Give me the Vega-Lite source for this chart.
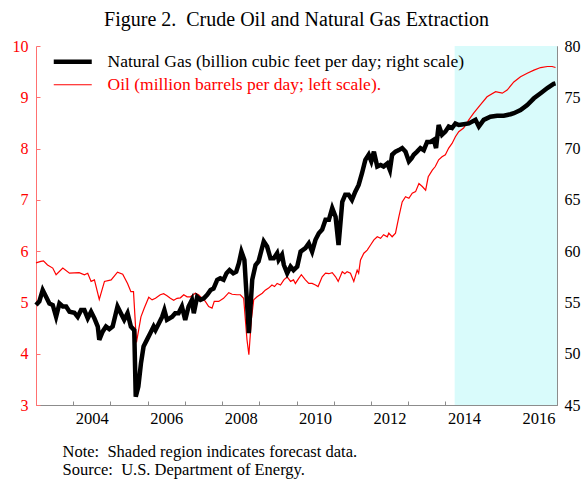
{
  "$schema": "https://vega.github.io/schema/vega-lite/v6.json",
  "width": 521,
  "height": 359,
  "autosize": {"type": "none"},
  "padding": {"left": 36, "top": 46, "right": 27, "bottom": 74},
  "background": "white",
  "config": {
    "font": "Liberation Serif",
    "view": {"stroke": null},
    "axis": {"grid": false, "labelFont": "Liberation Serif", "titleFont": "Liberation Serif"},
    "legend": {"labelFont": "Liberation Serif"}
  },
  "title": {
    "text": "Figure 2.\u00a0 Crude Oil and Natural Gas Extraction",
    "font": "Liberation Serif",
    "fontSize": 20,
    "fontWeight": "normal",
    "color": "black",
    "anchor": "middle",
    "offset": 8
  },
  "datasets": {
    "forecast": [{"start": 2014.25, "end": 2017}],
    "oil": [
      {"t":2003.00,"v":5.77},{"t":2003.13,"v":5.80},{"t":2003.20,"v":5.81},{"t":2003.31,"v":5.73},{"t":2003.45,"v":5.67},{"t":2003.54,"v":5.54},{"t":2003.72,"v":5.67},{"t":2003.90,"v":5.57},{"t":2004.16,"v":5.58},{"t":2004.30,"v":5.54},{"t":2004.39,"v":5.57},{"t":2004.48,"v":5.41},{"t":2004.57,"v":5.44},{"t":2004.70,"v":5.06},{"t":2004.84,"v":5.41},{"t":2005.02,"v":5.44},{"t":2005.19,"v":5.59},{"t":2005.33,"v":5.55},{"t":2005.46,"v":5.37},{"t":2005.55,"v":5.21},{"t":2005.62,"v":5.21},{"t":2005.70,"v":4.22},{"t":2005.82,"v":4.72},{"t":2005.91,"v":4.89},{"t":2006.03,"v":5.10},{"t":2006.12,"v":5.05},{"t":2006.21,"v":5.08},{"t":2006.34,"v":5.15},{"t":2006.43,"v":5.17},{"t":2006.52,"v":5.13},{"t":2006.61,"v":5.08},{"t":2006.70,"v":5.04},{"t":2006.79,"v":5.08},{"t":2006.88,"v":5.09},{"t":2006.97,"v":5.15},{"t":2007.06,"v":5.11},{"t":2007.15,"v":5.11},{"t":2007.28,"v":5.18},{"t":2007.37,"v":5.15},{"t":2007.46,"v":5.08},{"t":2007.55,"v":5.02},{"t":2007.64,"v":4.92},{"t":2007.73,"v":4.89},{"t":2007.79,"v":5.02},{"t":2007.91,"v":5.02},{"t":2008.04,"v":5.08},{"t":2008.18,"v":5.19},{"t":2008.27,"v":5.16},{"t":2008.40,"v":5.15},{"t":2008.49,"v":5.15},{"t":2008.58,"v":5.08},{"t":2008.67,"v":4.27},{"t":2008.72,"v":3.98},{"t":2008.79,"v":4.69},{"t":2008.85,"v":5.05},{"t":2008.94,"v":5.11},{"t":2009.08,"v":5.18},{"t":2009.16,"v":5.24},{"t":2009.25,"v":5.28},{"t":2009.34,"v":5.34},{"t":2009.41,"v":5.31},{"t":2009.48,"v":5.37},{"t":2009.57,"v":5.34},{"t":2009.66,"v":5.44},{"t":2009.75,"v":5.50},{"t":2009.84,"v":5.41},{"t":2009.92,"v":5.44},{"t":2009.97,"v":5.37},{"t":2010.06,"v":5.47},{"t":2010.13,"v":5.54},{"t":2010.24,"v":5.44},{"t":2010.33,"v":5.37},{"t":2010.42,"v":5.37},{"t":2010.51,"v":5.34},{"t":2010.58,"v":5.31},{"t":2010.69,"v":5.50},{"t":2010.78,"v":5.57},{"t":2010.87,"v":5.56},{"t":2010.96,"v":5.58},{"t":2011.05,"v":5.50},{"t":2011.12,"v":5.41},{"t":2011.23,"v":5.60},{"t":2011.30,"v":5.56},{"t":2011.36,"v":5.60},{"t":2011.45,"v":5.57},{"t":2011.54,"v":5.41},{"t":2011.63,"v":5.63},{"t":2011.67,"v":5.57},{"t":2011.72,"v":5.83},{"t":2011.81,"v":5.96},{"t":2011.90,"v":6.02},{"t":2011.99,"v":6.12},{"t":2012.08,"v":6.22},{"t":2012.17,"v":6.28},{"t":2012.26,"v":6.25},{"t":2012.34,"v":6.32},{"t":2012.44,"v":6.28},{"t":2012.48,"v":6.35},{"t":2012.57,"v":6.28},{"t":2012.66,"v":6.35},{"t":2012.75,"v":6.67},{"t":2012.84,"v":6.96},{"t":2012.93,"v":7.06},{"t":2013.02,"v":7.03},{"t":2013.11,"v":7.13},{"t":2013.20,"v":7.16},{"t":2013.29,"v":7.32},{"t":2013.38,"v":7.26},{"t":2013.47,"v":7.19},{"t":2013.54,"v":7.45},{"t":2013.65,"v":7.58},{"t":2013.73,"v":7.65},{"t":2013.82,"v":7.78},{"t":2013.91,"v":7.84},{"t":2014.00,"v":7.88},{"t":2014.09,"v":8.01},{"t":2014.18,"v":8.10},{"t":2014.27,"v":8.23},{"t":2014.36,"v":8.33},{"t":2014.49,"v":8.40},{"t":2014.63,"v":8.56},{"t":2014.76,"v":8.69},{"t":2014.94,"v":8.85},{"t":2015.12,"v":9.01},{"t":2015.35,"v":9.11},{"t":2015.53,"v":9.08},{"t":2015.66,"v":9.14},{"t":2015.84,"v":9.30},{"t":2016.02,"v":9.40},{"t":2016.20,"v":9.47},{"t":2016.38,"v":9.53},{"t":2016.56,"v":9.58},{"t":2016.74,"v":9.60},{"t":2016.87,"v":9.60},{"t":2016.96,"v":9.58}
    ],
    "gas": [
      {"t":2003.00,"v":54.75},{"t":2003.09,"v":55.1},{"t":2003.18,"v":56.2},{"t":2003.27,"v":55.55},{"t":2003.36,"v":54.9},{"t":2003.45,"v":54.75},{"t":2003.54,"v":53.6},{"t":2003.63,"v":54.9},{"t":2003.72,"v":54.6},{"t":2003.81,"v":54.6},{"t":2003.90,"v":54.1},{"t":2004.03,"v":54.0},{"t":2004.12,"v":53.6},{"t":2004.21,"v":54.25},{"t":2004.30,"v":54.25},{"t":2004.39,"v":53.45},{"t":2004.48,"v":54.1},{"t":2004.57,"v":53.45},{"t":2004.66,"v":52.65},{"t":2004.70,"v":51.35},{"t":2004.79,"v":52.15},{"t":2004.88,"v":52.65},{"t":2004.97,"v":52.4},{"t":2005.06,"v":52.65},{"t":2005.19,"v":54.6},{"t":2005.30,"v":53.8},{"t":2005.37,"v":53.3},{"t":2005.46,"v":53.95},{"t":2005.55,"v":52.65},{"t":2005.64,"v":52.3},{"t":2005.68,"v":45.8},{"t":2005.75,"v":46.8},{"t":2005.82,"v":49.05},{"t":2005.89,"v":50.7},{"t":2005.98,"v":51.35},{"t":2006.07,"v":52.0},{"t":2006.16,"v":52.65},{"t":2006.21,"v":52.3},{"t":2006.30,"v":52.95},{"t":2006.39,"v":53.6},{"t":2006.45,"v":54.25},{"t":2006.52,"v":53.3},{"t":2006.66,"v":53.6},{"t":2006.74,"v":53.95},{"t":2006.83,"v":53.95},{"t":2006.92,"v":54.6},{"t":2007.01,"v":53.3},{"t":2007.10,"v":54.6},{"t":2007.19,"v":55.25},{"t":2007.24,"v":53.95},{"t":2007.33,"v":55.55},{"t":2007.42,"v":55.25},{"t":2007.51,"v":55.4},{"t":2007.60,"v":55.75},{"t":2007.69,"v":56.2},{"t":2007.77,"v":56.35},{"t":2007.87,"v":57.2},{"t":2007.95,"v":57.35},{"t":2008.04,"v":57.2},{"t":2008.12,"v":57.85},{"t":2008.20,"v":58.15},{"t":2008.30,"v":57.85},{"t":2008.38,"v":58.0},{"t":2008.45,"v":58.8},{"t":2008.52,"v":59.95},{"t":2008.60,"v":59.15},{"t":2008.72,"v":52.0},{"t":2008.81,"v":57.2},{"t":2008.90,"v":58.65},{"t":2008.98,"v":59.0},{"t":2009.12,"v":60.95},{"t":2009.21,"v":60.45},{"t":2009.30,"v":59.3},{"t":2009.39,"v":59.3},{"t":2009.48,"v":59.8},{"t":2009.52,"v":59.15},{"t":2009.61,"v":59.65},{"t":2009.66,"v":58.65},{"t":2009.75,"v":57.85},{"t":2009.84,"v":58.5},{"t":2009.92,"v":58.15},{"t":2010.02,"v":58.5},{"t":2010.11,"v":59.95},{"t":2010.24,"v":60.3},{"t":2010.33,"v":60.75},{"t":2010.42,"v":59.95},{"t":2010.51,"v":61.1},{"t":2010.60,"v":61.75},{"t":2010.69,"v":62.1},{"t":2010.78,"v":63.05},{"t":2010.87,"v":63.05},{"t":2010.96,"v":64.2},{"t":2011.05,"v":63.35},{"t":2011.13,"v":60.6},{"t":2011.23,"v":64.8},{"t":2011.31,"v":65.5},{"t":2011.40,"v":65.5},{"t":2011.49,"v":65.0},{"t":2011.58,"v":65.8},{"t":2011.67,"v":66.45},{"t":2011.76,"v":67.6},{"t":2011.85,"v":68.9},{"t":2011.94,"v":69.4},{"t":2012.01,"v":68.75},{"t":2012.08,"v":69.7},{"t":2012.17,"v":68.25},{"t":2012.26,"v":68.4},{"t":2012.34,"v":68.25},{"t":2012.44,"v":68.55},{"t":2012.51,"v":67.9},{"t":2012.57,"v":69.4},{"t":2012.66,"v":69.7},{"t":2012.75,"v":69.85},{"t":2012.84,"v":70.05},{"t":2012.93,"v":69.7},{"t":2013.02,"v":68.75},{"t":2013.09,"v":69.05},{"t":2013.15,"v":69.4},{"t":2013.24,"v":69.7},{"t":2013.33,"v":70.05},{"t":2013.42,"v":69.85},{"t":2013.51,"v":70.65},{"t":2013.60,"v":70.65},{"t":2013.69,"v":70.85},{"t":2013.75,"v":70.05},{"t":2013.82,"v":72.3},{"t":2013.91,"v":71.35},{"t":2014.00,"v":71.65},{"t":2014.09,"v":72.15},{"t":2014.18,"v":72.0},{"t":2014.27,"v":72.45},{"t":2014.36,"v":72.3},{"t":2014.45,"v":72.35},{"t":2014.63,"v":72.45},{"t":2014.81,"v":72.8},{"t":2014.90,"v":72.15},{"t":2015.03,"v":72.8},{"t":2015.21,"v":73.1},{"t":2015.39,"v":73.2},{"t":2015.57,"v":73.2},{"t":2015.75,"v":73.35},{"t":2015.84,"v":73.45},{"t":2016.02,"v":73.75},{"t":2016.20,"v":74.25},{"t":2016.38,"v":74.9},{"t":2016.56,"v":75.4},{"t":2016.74,"v":75.9},{"t":2016.91,"v":76.3},{"t":2016.96,"v":76.35}
    ]
  },
  "layer": [
    {
      "data": {"name": "forecast"},
      "mark": {"type": "rect", "color": "#d9fbfb"},
      "encoding": {
        "x": {
          "field": "start", "type": "quantitative",
          "scale": {"domain": [2003, 2017], "nice": false, "zero": false},
          "axis": {
            "orient": "bottom",
            "labels": false,
            "values": [2003,2004,2005,2006,2007,2008,2009,2010,2011,2012,2013,2014,2015,2016,2017],
            "tickSize": -4,
            "tickColor": "#8c8c8c",
            "domainColor": "#8c8c8c",
            "title": ["Note:\u00a0 Shaded region indicates forecast data.", "Source:\u00a0 U.S. Department of Energy."],
            "titleAnchor": "start",
            "titleAlign": "left",
            "titleBaseline": "top",
            "titleX": 26,
            "titleY": 38,
            "titleFontSize": 16.5,
            "titleFontWeight": "normal",
            "titleColor": "black",
            "titleLineHeight": 18
          }
        },
        "x2": {"field": "end"}
      }
    },
    {
      "data": {"name": "oil"},
      "mark": {"type": "line", "color": "#ff0000", "strokeWidth": 1.2},
      "encoding": {
        "x": {
          "field": "t", "type": "quantitative",
          "axis": {
            "orient": "bottom",
            "values": [2004, 2006, 2008, 2010, 2012, 2014, 2016],
            "format": "d",
            "ticks": false,
            "tickSize": 0,
            "domain": false,
            "labelOffset": 18.6,
            "labelFlush": false,
            "labelOverlap": false,
            "labelFontSize": 16.5,
            "labelColor": "black",
            "labelPadding": 5,
            "title": null
          }
        },
        "y": {
          "field": "v", "type": "quantitative",
          "scale": {"domain": [3, 10], "nice": false, "zero": false},
          "axis": {
            "orient": "left",
            "values": [3,4,5,6,7,8,9,10],
            "title": null,
            "labelFontSize": 16,
            "labelColor": "#ff0000",
            "labelPadding": 12,
            "tickSize": -4,
            "tickColor": "#ff7070",
            "domainColor": "#ff7070"
          }
        },
        "color": {
          "datum": "Oil (million barrels per day; left scale).",
          "type": "nominal",
          "scale": {
            "domain": ["Natural Gas (billion cubic feet per day; right scale)", "Oil (million barrels per day; left scale)."],
            "range": ["black", "#ff0000"]
          },
          "legend": {
            "orient": "none",
            "legendX": 28,
            "legendY": 7,
            "title": null,
            "padding": 0,
            "symbolType": "stroke",
            "symbolSize": 1444,
            "symbolStrokeWidth": 3,
            "labelFontSize": 17.5,
            "labelOffset": 26,
            "rowPadding": 4,
            "labelLimit": 500,
            "encode": {
              "labels": {"update": {"fill": {"signal": "datum.value === 'Oil (million barrels per day; left scale).' ? '#ff0000' : 'black'"}}},
              "symbols": {"update": {"strokeWidth": {"signal": "datum.value === 'Oil (million barrels per day; left scale).' ? 1.2 : 4.5"}}}
            }
          }
        }
      }
    },
    {
      "data": {"name": "gas"},
      "mark": {"type": "line", "color": "black", "strokeWidth": 4.5},
      "encoding": {
        "x": {"field": "t", "type": "quantitative", "axis": null},
        "y": {
          "field": "v", "type": "quantitative",
          "scale": {"domain": [45, 80], "nice": false, "zero": false},
          "axis": {
            "orient": "right",
            "values": [45,50,55,60,65,70,75,80],
            "title": null,
            "labelFontSize": 16,
            "labelColor": "black",
            "labelPadding": 11,
            "tickSize": -4,
            "tickColor": "#8c8c8c",
            "domainColor": "#8c8c8c"
          }
        },
        "color": {"datum": "Natural Gas (billion cubic feet per day; right scale)", "type": "nominal"}
      }
    }
  ],
  "resolve": {"scale": {"y": "independent"}, "axis": {"x": "independent"}}
}
